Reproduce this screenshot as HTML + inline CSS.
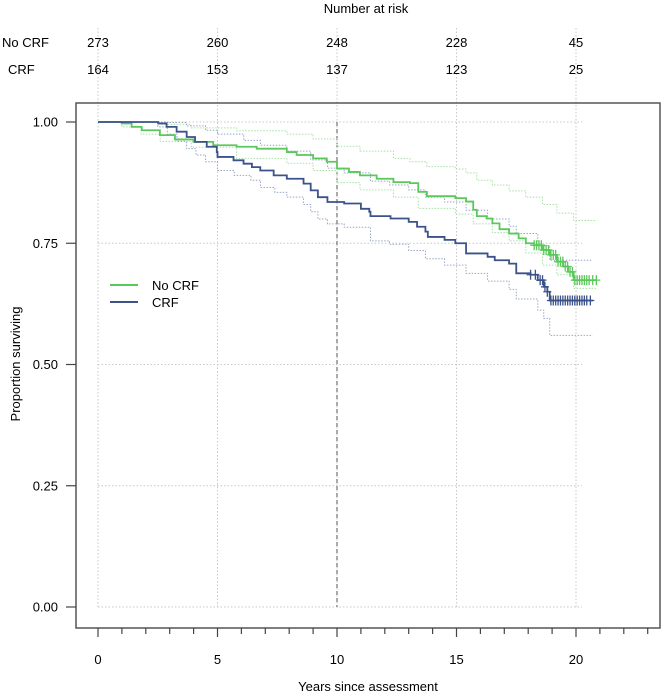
<!DOCTYPE html>
<html><head><meta charset="utf-8"><style>
body{margin:0;background:#fff}
svg{display:block;font-family:"Liberation Sans",Arial,sans-serif}
</style></head><body>
<svg id="c" width="669" height="692"></svg>
<script>
const groupNames=["No CRF","CRF"];
const riskTimes=[0,5,10,15,20];
const riskNoCRF=[273,260,248,228,45];
const riskCRF=[164,153,137,123,25];
const xTicks=[0,5,10,15,20];
const yTicks=[0,0.25,0.5,0.75,1];
const yTickLabels=["0.00","0.25","0.50","0.75","1.00"];
const gT=[0,0.99,1.41,1.83,2.59,3.22,3.99,4.82,5.8,6.64,7.9,8.31,9.0,9.57,10.0,10.5,10.96,11.66,12.36,13.05,13.4,13.76,14.95,15.4,15.7,15.85,16.26,16.5,16.8,17.2,17.6,17.9,18.25,18.6,18.9,19.2,19.46,19.67,19.9];
const gS=[1,0.997,0.990,0.983,0.973,0.964,0.959,0.952,0.949,0.945,0.938,0.932,0.925,0.918,0.904,0.897,0.890,0.883,0.876,0.874,0.856,0.847,0.843,0.836,0.819,0.806,0.801,0.791,0.779,0.770,0.760,0.750,0.746,0.736,0.726,0.712,0.702,0.691,0.674];
const gEnd=20.87;
const gUpT=[0,1.4,2.6,3.9,5.8,7.9,9.0,10.0,10.96,12.36,13.05,13.76,14.95,15.4,15.85,16.5,17.2,17.9,18.6,19.2,19.9];
const gUpS=[1,0.999,0.995,0.988,0.982,0.975,0.965,0.950,0.940,0.925,0.918,0.908,0.903,0.895,0.880,0.870,0.858,0.845,0.830,0.812,0.797];
const gLoT=[0,1.0,1.8,2.6,3.9,5.8,7.9,9.0,10.0,10.96,12.36,13.4,14.95,15.7,16.5,17.2,17.9,18.6,19.2,19.9];
const gLoS=[1,0.990,0.975,0.960,0.948,0.925,0.915,0.900,0.875,0.860,0.845,0.822,0.810,0.790,0.772,0.755,0.730,0.705,0.685,0.657];
const bT=[0,2.52,2.87,3.29,3.71,4.06,4.55,4.97,5.0,5.67,6.09,6.44,6.79,7.35,7.9,8.6,8.9,9.2,9.6,10.3,11.0,11.35,11.4,12.24,13.0,13.35,13.7,13.8,14.5,14.95,15.4,16.3,16.6,17.2,17.5,18.1,18.4,18.65,18.8,18.9];
const bS=[1,0.997,0.990,0.980,0.969,0.959,0.949,0.938,0.928,0.921,0.914,0.907,0.900,0.890,0.883,0.873,0.859,0.845,0.835,0.832,0.821,0.815,0.806,0.801,0.794,0.784,0.774,0.763,0.757,0.750,0.729,0.722,0.715,0.708,0.688,0.685,0.674,0.660,0.650,0.632];
const bEnd=20.7;
const bUpT=[0,2.9,3.7,4.5,5.0,6.1,6.8,7.9,8.9,9.6,10.3,11.4,12.2,13.0,13.7,14.5,15.4,16.3,17.2,17.5,18.4,18.9];
const bUpS=[1,0.999,0.992,0.983,0.975,0.962,0.952,0.940,0.922,0.905,0.895,0.878,0.870,0.860,0.845,0.835,0.818,0.800,0.785,0.770,0.745,0.715];
const bLoT=[0,2.5,2.9,3.3,3.7,4.1,4.5,5.0,5.7,6.4,6.8,7.4,7.9,8.6,8.9,9.2,9.6,10.3,11.4,12.2,13.0,13.7,14.5,15.4,16.3,17.2,17.5,18.4,18.65,18.9];
const bLoS=[1,0.99,0.975,0.960,0.945,0.932,0.918,0.900,0.890,0.880,0.865,0.855,0.845,0.830,0.815,0.800,0.790,0.783,0.755,0.748,0.735,0.718,0.705,0.688,0.672,0.655,0.635,0.612,0.595,0.560];
const gCens=[18.25,18.35,18.45,18.55,18.65,18.75,18.85,18.95,19.05,19.15,19.25,19.35,19.45,19.55,19.65,19.75,19.85,19.95,20.05,20.15,20.25,20.35,20.45,20.55,20.7,20.85];
const bCens=[18.1,18.3,18.5,18.6,18.7,18.8,18.95,19.05,19.15,19.25,19.35,19.45,19.55,19.65,19.75,19.85,19.95,20.05,20.15,20.25,20.35,20.45,20.6];

const NS="http://www.w3.org/2000/svg";
const svg=document.getElementById('c');
const X0=98,PX=23.9,YT=122,YB=607;
const sx=t=>X0+t*PX;
const sy=v=>YB-(YB-YT)*v;
function mk(tag,attrs,parent){const e=document.createElementNS(NS,tag);for(const k in attrs)e.setAttribute(k,attrs[k]);(parent||svg).appendChild(e);return e;}
function txt(x,y,s,anchor,extra){const e=mk('text',Object.assign({x:x,y:y,'font-size':13,fill:'#000','text-anchor':anchor||'middle'},extra||{}));e.textContent=s;return e;}

xTicks.forEach(t=>{const l=mk('line',{x1:sx(t),x2:sx(t),y1:28,y2:YB,stroke:'#c8c8c8','stroke-dasharray':'1.5,2'});

});
yTicks.forEach(v=>{const l=mk('line',{x1:sx(0),x2:sx(20.25),y1:sy(v),y2:sy(v),stroke:'#c8c8c8','stroke-dasharray':'1.5,2'});

});
const dl=mk('line',{x1:sx(10),x2:sx(10),y1:sy(1),y2:sy(0),stroke:'#555','stroke-dasharray':'4,3'});



const box=mk('rect',{x:76,y:103,width:584,height:525,fill:'none',stroke:'#555','stroke-width':1.5});



function stepPath(T,S,end){let d='M'+sx(T[0])+','+sy(S[0]);for(let i=1;i<T.length;i++){d+='H'+sx(T[i])+'V'+sy(S[i]);}if(end!==undefined)d+='H'+sx(end);return d;}
function band(T,S,end,col,name){const p=mk('path',{d:stepPath(T,S,end),fill:'none',stroke:col,'stroke-width':1,'stroke-dasharray':'1.5,1.5'});

}
band(gUpT,gUpS,gEnd,'#a8e0a8','no-crf-ci-upper');
band(gLoT,gLoS,gEnd,'#a8e0a8','no-crf-ci-lower');
band(bUpT,bUpS,bEnd,'#9aa6c6','crf-ci-upper');
band(bLoT,bLoS,bEnd,'#9aa6c6','crf-ci-lower');
const gp=mk('path',{d:stepPath(gT,gS,gEnd),fill:'none',stroke:'#5ac85a','stroke-width':1.8});


const bp=mk('path',{d:stepPath(bT,bS,bEnd),fill:'none',stroke:'#3b528b','stroke-width':1.8});


function valAt(T,S,t){let v=S[0];for(let i=0;i<T.length;i++){if(T[i]<=t)v=S[i];}return v;}
gCens.forEach(t=>{const y=sy(valAt(gT,gS,t)),x=sx(t);const c=mk('path',{d:`M${x-4},${y}H${x+4}M${x},${y-5}V${y+5}`,stroke:'#5ac85a','stroke-width':1.3});

});
bCens.forEach(t=>{const y=sy(valAt(bT,bS,t)),x=sx(t);const c=mk('path',{d:`M${x-4},${y}H${x+4}M${x},${y-5}V${y+5}`,stroke:'#3b528b','stroke-width':1.3});

});

for(let t=0;t<=23;t++){const l=mk('line',{x1:sx(t),x2:sx(t),y1:628,y2:t%5===0?637:634,stroke:'#444','stroke-width':1.2});

}
xTicks.forEach(t=>{const e=txt(sx(t),664,String(t));

});
yTicks.forEach((v,i)=>{const l=mk('line',{x1:66,x2:76,y1:sy(v),y2:sy(v),stroke:'#444','stroke-width':1.2});


const e=txt(58,sy(v)+4.5,yTickLabels[i],'end');

});
const xt=txt(368,691,'Years since assessment');


const yt=txt(0,0,'Proportion surviving','middle',{transform:'translate(20,364) rotate(-90)'});



const rt=txt(366,13,'Number at risk');


const r1=txt(2,47,groupNames[0],'start');


const r2=txt(8,74,groupNames[1],'start');


riskTimes.forEach((t,i)=>{const a=txt(sx(t),47,String(riskNoCRF[i]));


const b=txt(sx(t),74,String(riskCRF[i]));

});

const lg=mk('g',{});


const l1=mk('line',{x1:110,x2:138,y1:285,y2:285,stroke:'#5ac85a','stroke-width':2},lg);


const l2=mk('line',{x1:110,x2:138,y1:302,y2:302,stroke:'#3b528b','stroke-width':2},lg);


const t1=txt(152,290,groupNames[0],'start');


const t2=txt(152,307,groupNames[1],'start');


</script>
</body></html>
